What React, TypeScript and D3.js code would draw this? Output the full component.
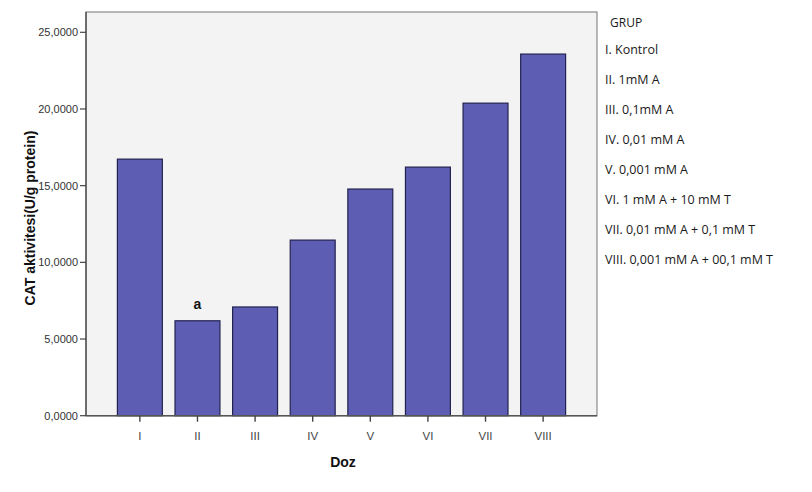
import React from "react";
import * as d3 from "d3";

const categories = ["I", "II", "III", "IV", "V", "VI", "VII", "VIII"];
const values = [16.73, 6.19, 7.09, 11.45, 14.78, 16.21, 20.38, 23.58];
const yTicks = [0, 5, 10, 15, 20, 25];
const legendTitle = "GRUP";
const legendItems = [
  "I. Kontrol",
  "II. 1mM A",
  "III. 0,1mM A",
  "IV. 0,01 mM A",
  "V. 0,001 mM A",
  "VI. 1 mM A + 10 mM T",
  "VII. 0,01 mM A + 0,1 mM T",
  "VIII. 0,001 mM A + 00,1 mM T",
];
const annotations = [{ cat: "II", text: "a" }];

const W = 812, H = 492;
const plot = { left: 86, right: 597, top: 12, bottom: 415.7 };

export default function App() {
  const x = d3.scaleBand<string>().domain(categories).range([plot.left, plot.right]).paddingInner(0.22).paddingOuter(0.545);
  const y = d3.scaleLinear().domain([0, 25]).range([plot.bottom, 32.3]);
  const fmt = (v: number) => v.toFixed(4).replace(".", ",");
  const axisFont = "Liberation Sans, Arial, sans-serif";
  const legFont = "Open Sans, sans-serif";
  return (
    <svg width={W} height={H} style={{ position: "absolute", left: 0, top: 0, background: "#fff" }}>
      <rect x={plot.left} y={plot.top} width={plot.right - plot.left} height={plot.bottom - plot.top} fill="#f3f3f3" stroke="#8a8a8a" strokeWidth={1.2} />
      {categories.map((c, i) => (
        <rect key={c} x={x(c)!} y={y(values[i])} width={x.bandwidth()} height={plot.bottom - y(values[i])} fill="#5d5eb3" stroke="#22224f" strokeWidth={1.2} />
      ))}
      <line x1={plot.left} x2={plot.left} y1={plot.top} y2={plot.bottom} stroke="#555" strokeWidth={1.5} />
      <line x1={plot.left} x2={plot.right} y1={plot.bottom} y2={plot.bottom} stroke="#555" strokeWidth={1.5} />
      {yTicks.map((t) => (
        <g key={t}>
          <line x1={plot.left - 6} x2={plot.left} y1={y(t)} y2={y(t)} stroke="#444" strokeWidth={1.2} />
          <text x={plot.left - 8} y={y(t)} dy="0.35em" textAnchor="end" fontFamily={axisFont} fontSize={11} fill="#333">{fmt(t)}</text>
        </g>
      ))}
      {categories.map((c) => {
        const cx = x(c)! + x.bandwidth() / 2;
        return (
          <g key={c}>
            <line x1={cx} x2={cx} y1={plot.bottom} y2={plot.bottom + 6} stroke="#444" strokeWidth={1.4} />
            <text x={cx} y={plot.bottom + 24} textAnchor="middle" fontFamily={axisFont} fontSize={11.5} fill="#444">{c}</text>
          </g>
        );
      })}
      {annotations.map((a) => {
        const i = categories.indexOf(a.cat);
        return (
          <text key={a.cat} x={x(a.cat)! + x.bandwidth() / 2} y={y(values[i]) - 12} textAnchor="middle" fontFamily={axisFont} fontSize={14} fontWeight="bold" fill="#111">{a.text}</text>
        );
      })}
      <text x={343} y={467} textAnchor="middle" fontFamily={axisFont} fontSize={14} fontWeight="bold" fill="#111">Doz</text>
      <text transform={`translate(35,218) rotate(-90)`} textAnchor="middle" fontFamily={axisFont} fontSize={14} fontWeight="bold" fill="#111">CAT aktivitesi(U/g protein)</text>
      <text x={610} y={27} fontFamily={legFont} fontSize={12} fill="#1a1a1a">{legendTitle}</text>
      {legendItems.map((s, i) => (
        <text key={s} x={605} y={53.5 + i * 30} fontFamily={legFont} fontSize={12.5} fill="#1a1a1a">{s}</text>
      ))}
    </svg>
  );
}
